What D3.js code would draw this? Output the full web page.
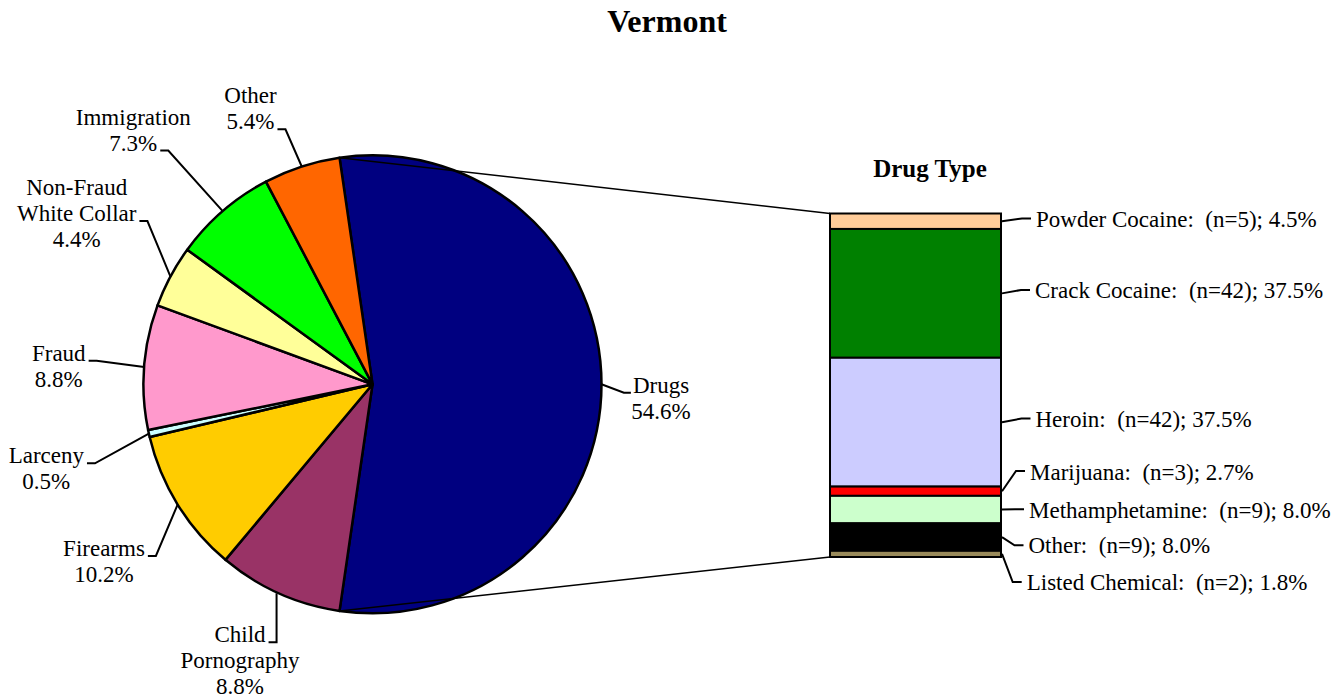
<!DOCTYPE html>
<html><head><meta charset="utf-8">
<script src="https://cdn.jsdelivr.net/npm/d3@7"></script>
<style>
body{margin:0;background:#fff}
text, tspan{font-family:"Liberation Serif","Times New Roman",serif;white-space:pre;fill:#000}
</style>
</head><body><svg id="c" width="1342" height="700"></svg>
<script>
// ---------- DATA ----------
const chartTitle = "Vermont";
const offenseCategories = ["Drugs","Child Pornography","Firearms","Larceny","Fraud","Non-Fraud White Collar","Immigration","Other"];
const offensePercents = [54.6, 8.8, 10.2, 0.5, 8.8, 4.4, 7.3, 5.4];
const offenseColors = ["#000080","#993366","#FFCC00","#CCFFFF","#FF99CC","#FFFF99","#00FF00","#FF6600"];

const drugTitle = "Drug Type";
const drugTypes = ["Powder Cocaine","Crack Cocaine","Heroin","Marijuana","Methamphetamine","Other","Listed Chemical"];
const drugCounts = [5, 42, 42, 3, 9, 9, 2];
const drugPercents = [4.5, 37.5, 37.5, 2.7, 8.0, 8.0, 1.8];
const drugColors = ["#FFCC99","#008000","#CCCCFF","#FF0000","#CCFFCC","#000000","#998A5A"];

// ---------- LAYOUT ----------
const W = 1342, H = 700;
const FONT = "'Liberation Serif','Times New Roman',serif";
const pieC = {x: 372.5, y: 384.3}, R = 229;
const bar = {x0: 830, x1: 1001, y0: 213.5, y1: 557};
const fontSize = 23, lineH = 26;
const pieLabelLayout = {
  "Drugs":                  {cx: 661,   y: 392.7, lines: ["Drugs"], attach: 0, side: "left"},
  "Child Pornography":      {cx: 240,   y: 642.3, lines: ["Child","Pornography"], attach: 0, side: "right", vertical: true},
  "Firearms":               {cx: 104,   y: 556,   lines: ["Firearms"], attach: 0, side: "right"},
  "Larceny":                {cx: 46.3,  y: 463.3, lines: ["Larceny"], attach: 0, side: "right"},
  "Fraud":                  {cx: 58.8,  y: 360.7, lines: ["Fraud"], attach: 0, side: "right"},
  "Non-Fraud White Collar": {cx: 76.7,  y: 195,   lines: ["Non-Fraud","White Collar"], attach: 1, side: "right"},
  "Immigration":            {cx: 133.3, y: 124.5, lines: ["Immigration"], attach: 1, side: "right"},
  "Other":                  {cx: 250.5, y: 103.3, lines: ["Other"], attach: 1, side: "right"}
};
const barLabelLayout = [
  {x: 1036,   y: 226.5, dy: -8},
  {x: 1035,   y: 298,   dy: -8},
  {x: 1035.5, y: 426.5, dy: -8},
  {x: 1030,   y: 480,   dy: -9},
  {x: 1029,   y: 518.3, dy: -9},
  {x: 1028.5, y: 553.3, dy: -8},
  {x: 1026.7, y: 590,   dy: -8}
];

const svg = d3.select("#c");
svg.append("rect").attr("width", W).attr("height", H).attr("fill", "#fff");

svg.append("text").attr("x", 667).attr("y", 32).attr("text-anchor", "middle")
  .attr("font-family", FONT).style("font-size", "32px").style("font-weight", "bold").text(chartTitle);

// ---------- PIE ----------
const drugFrac = offensePercents[0] / d3.sum(offensePercents);
const startA = Math.PI / 2 - drugFrac * Math.PI;
const pie = d3.pie().sort(null).value(d => d.v).startAngle(startA).endAngle(startA + 2 * Math.PI);
const pieData = pie(offenseCategories.map((c, i) => ({c, v: offensePercents[i], col: offenseColors[i]})));
const arc = d3.arc().innerRadius(0).outerRadius(R);
const edge = d3.arc().innerRadius(R).outerRadius(R);

const gPie = svg.append("g").attr("transform", `translate(${pieC.x},${pieC.y})`);

const drugSlice = pieData[0];
const pt = a => [pieC.x + R * Math.sin(a), pieC.y - R * Math.cos(a)];
const pTop = pt(drugSlice.startAngle), pBot = pt(drugSlice.endAngle);

gPie.selectAll("path.slice").data(pieData).join("path").attr("class", "slice")
  .attr("d", arc).attr("fill", d => d.data.col)
  .attr("stroke", "#000").attr("stroke-width", 2.5).attr("stroke-linejoin", "round");

svg.append("line").attr("x1", pTop[0]).attr("y1", pTop[1]).attr("x2", bar.x0).attr("y2", bar.y0)
  .attr("stroke", "#000").attr("stroke-width", 1.5);
svg.append("line").attr("x1", pBot[0]).attr("y1", pBot[1]).attr("x2", bar.x0).attr("y2", bar.y1)
  .attr("stroke", "#000").attr("stroke-width", 1.5);

pieData.forEach(d => {
  const L = pieLabelLayout[d.data.c];
  const lines = L.lines.concat([d.data.v.toFixed(1) + "%"]);
  const t = svg.append("text").attr("text-anchor", "middle")
    .attr("font-family", FONT).style("font-size", fontSize + "px");
  const spans = lines.map((ln, i) => t.append("tspan").attr("x", L.cx).attr("y", L.y + i * lineH).text(ln));
  const w = spans[L.attach].node().getComputedTextLength();
  const ay = L.y + L.attach * lineH;
  const c = edge.centroid(d);
  const start = [pieC.x + c[0], pieC.y + c[1]];
  let pts;
  if (L.side === "right") {
    const endX = L.cx + w / 2 + 3;
    pts = [[endX, ay], [endX + 8, ay], L.vertical ? [endX + 8, start[1]] : start];
  } else {
    const endX = L.cx - w / 2 - 2;
    pts = [[endX, ay], [endX - 7, ay], start];
  }
  svg.append("path").attr("d", d3.line()(pts)).attr("fill", "none")
    .attr("stroke", "#000").attr("stroke-width", 2);
});

// ---------- BAR ----------
const y = d3.scaleLinear().domain([0, d3.sum(drugPercents)]).range([bar.y0, bar.y1]);
const cum = d3.cumsum(drugPercents);
const segs = drugTypes.map((t, i) => ({t, n: drugCounts[i], p: drugPercents[i], col: drugColors[i], a: cum[i] - drugPercents[i], b: cum[i]}));

svg.append("text").attr("x", 930).attr("y", 177).attr("text-anchor", "middle")
  .attr("font-family", FONT).style("font-size", "25px").style("font-weight", "bold").text(drugTitle);

svg.selectAll("rect.seg").data(segs).join("rect").attr("class", "seg")
  .attr("x", bar.x0).attr("width", bar.x1 - bar.x0)
  .attr("y", d => y(d.a)).attr("height", d => y(d.b) - y(d.a))
  .attr("fill", d => d.col).attr("stroke", "#000").attr("stroke-width", 2);

segs.forEach((d, i) => {
  const L = barLabelLayout[i];
  const mid = (y(d.a) + y(d.b)) / 2;
  const ly = L.y + L.dy;
  const pts = [[bar.x1 + 1, mid], [L.x - 14, ly], [L.x - 5, ly]];
  svg.append("path").attr("d", d3.line()(pts)).attr("fill", "none")
    .attr("stroke", "#000").attr("stroke-width", 2);
  svg.append("text").attr("x", L.x).attr("y", L.y)
    .attr("font-family", FONT).style("font-size", fontSize + "px")
    .attr("xml:space", "preserve")
    .text(`${d.t}:  (n=${d.n}); ${d.p.toFixed(1)}%`);
});
</script>
</body></html>
